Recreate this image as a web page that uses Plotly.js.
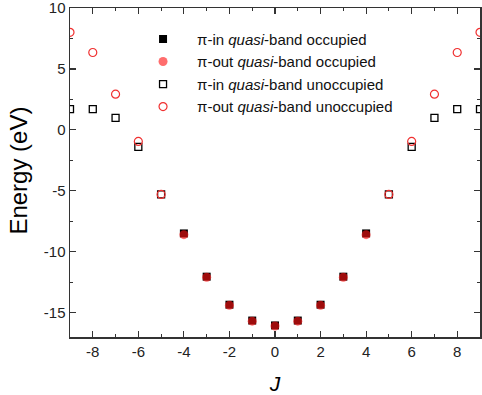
<!DOCTYPE html>
<html>
<head>
<meta charset="utf-8">
<script src="https://cdn.plot.ly/plotly-3.0.1.min.js"></script>
<style>html,body{margin:0;padding:0;background:#fff;}#chart{width:482px;height:395px;}</style>
</head>
<body>
<div id="chart"></div>
<script>
// Occupied states
const J_occ = [-4, -3, -2, -1, 0, 1, 2, 3, 4];
const piIn_occ = [-8.5, -12.05, -14.35, -15.65, -16.05, -15.65, -14.35, -12.05, -8.5];
const piOut_occ = [-8.6, -12.1, -14.4, -15.7, -16.1, -15.7, -14.4, -12.1, -8.6];
// Unoccupied states
const J_unocc = [-9, -8, -7, -6, -5, 5, 6, 7, 8, 9];
const piIn_unocc = [1.7, 1.7, 0.98, -1.4, -5.3, -5.3, -1.4, 0.98, 1.7, 1.7];
const piOut_unocc = [8.0, 6.35, 2.93, -0.95, -5.3, -5.3, -0.95, 2.93, 6.35, 8.0];

// Tick labels
const xTickVals = [-8, -6, -4, -2, 0, 2, 4, 6, 8];
const xTickText = ['-8', '-6', '-4', '-2', '0', '2', '4', '6', '8'];
const yTickVals = [-15, -10, -5, 0, 5, 10];
const yTickText = ['-15', '-10', '-5', '0', '5', '10'];

const names = [
  'π-in <i>quasi</i>-band occupied',
  'π-out <i>quasi</i>-band occupied',
  'π-in <i>quasi</i>-band unoccupied',
  'π-out <i>quasi</i>-band unoccupied'
];

const FONT = 'Arial, Liberation Sans, sans-serif';

const traces = [
  {x: J_occ, y: piIn_occ, name: names[0], mode: 'markers', type: 'scatter',
   marker: {symbol: 'square', size: 8, color: '#000000', line: {width: 0}}},
  {x: J_occ, y: piOut_occ, name: names[1], mode: 'markers', type: 'scatter',
   marker: {symbol: 'circle', size: 9, color: 'rgba(255,20,20,0.62)', line: {width: 0}}},
  {x: J_unocc, y: piIn_unocc, name: names[2], mode: 'markers', type: 'scatter',
   marker: {symbol: 'square-open', size: 7, color: '#000000', line: {width: 1.3}}},
  {x: J_unocc, y: piOut_unocc, name: names[3], mode: 'markers', type: 'scatter',
   marker: {symbol: 'circle-open', size: 8, color: '#f03030', line: {width: 1.2}}}
];

const axisCommon = {
  showline: true, linecolor: '#333', linewidth: 1.5, mirror: 'ticks',
  ticks: 'inside', ticklen: 6, tickwidth: 1.2, tickcolor: '#333',
  showgrid: false, zeroline: false, ticklabeloverflow: 'allow',
  tickfont: {family: FONT, size: 15, color: '#222'}
};

const layout = {
  width: 482, height: 395,
  margin: {l: 70, r: 2, t: 8, b: 58},
  paper_bgcolor: '#fff', plot_bgcolor: '#fff',
  showlegend: true,
  xaxis: Object.assign({}, axisCommon, {
    range: [-9, 9], tickmode: 'array', tickvals: xTickVals, ticktext: xTickText,
    minor: {ticks: 'inside', dtick: 1, tick0: 0, ticklen: 3, tickcolor: '#333', tickwidth: 1},
    title: {text: '<i>J</i>', font: {family: FONT, size: 21, color: '#000'}, standoff: 19}
  }),
  yaxis: Object.assign({}, axisCommon, {
    range: [-17, 10], tickmode: 'array', tickvals: yTickVals, ticktext: yTickText,
    minor: {ticks: 'inside', dtick: 2.5, tick0: 0, ticklen: 3, tickcolor: '#333', tickwidth: 1}
  }),
  annotations: [{
    text: 'Energy (eV)', textangle: -90, showarrow: false,
    xref: 'paper', yref: 'paper', x: -0.125, y: 0.505, xanchor: 'center', yanchor: 'middle',
    font: {family: FONT, size: 24, color: '#000'}
  }],
  legend: {
    x: 0.144, y: 0.955, xanchor: 'left', yanchor: 'top',
    bgcolor: 'rgba(0,0,0,0)', borderwidth: 0,
    font: {family: FONT, size: 15, color: '#111'},
    itemwidth: 58, tracegroupgap: 0
  }
};

Plotly.newPlot('chart', traces, layout, {displayModeBar: false, staticPlot: true});
</script>
</body>
</html>
